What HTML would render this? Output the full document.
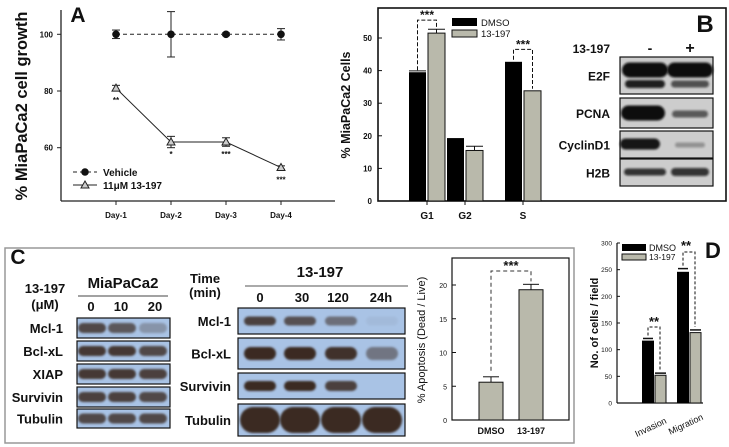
<!DOCTYPE html>
<html><head><meta charset="utf-8"><style>
html,body{margin:0;padding:0;background:#fff}
svg{display:block;font-family:"Liberation Sans",Arial,sans-serif}
</style></head><body>
<svg id="fig" width="729" height="447" viewBox="0 0 729 447" xmlns="http://www.w3.org/2000/svg">
<defs>
<filter id="blur1" x="-20%" y="-50%" width="140%" height="200%"><feGaussianBlur stdDeviation="1.0"/></filter>
</defs>
<g id="panelA"></g>
<g id="panelB"></g>
<g id="blotB"></g>
<g id="panelC"></g>
<g id="panelD"></g>
</svg>
<script>
// ---- Panel A data ----
const daysA = ["Day-1","Day-2","Day-3","Day-4"];
const vehicleA = [100,100,100,100];
const vehicleErrA = [1.5,8,0.5,2];
const drugA = [81,62,62,53];
const drugErrA = [1,2,1.5,0.6];
const drugStarsA = ["**","*","***","***"];
const ticksA = [60,80,100];
// ---- Panel B data ----
const phasesB = ["G1","G2","S"];
const dmsoB = [39.5,19.3,42.7];
const dmsoErrB = [0.4,0,0];
const drugB = [51.5,15.5,33.8];
const drugErrB = [1.2,1.3,0];
const ticksB = [0,10,20,30,40,50];
// ---- Panel C apoptosis data ----
const groupsC = ["DMSO","13-197"];
const apopC = [5.6,19.3];
const apopErrC = [0.8,0.8];
const ticksC = [0,5,10,15,20];
// ---- Panel D data ----
const assaysD = ["Invasion","Migration"];
const dmsoD = [117,246];
const dmsoErrD = [4,6];
const drugD = [52,132];
const drugErrD = [4,5];
const ticksD = [0,50,100,150,200,250,300];

const NS="http://www.w3.org/2000/svg";
function mk(parent,tag,attrs,text){const e=document.createElementNS(NS,tag);for(const k in attrs)e.setAttribute(k,attrs[k]);if(text!==undefined)e.textContent=text;parent.appendChild(e);return e;}
function txt(p,x,y,s,size,opt){opt=opt||{};const t=mk(p,'text',{x:x,y:y,'font-size':size,'text-anchor':opt.anchor||'middle','font-weight':opt.bold===false?'normal':'bold',fill:opt.fill||'#111'},s);if(opt.rot)t.setAttribute('transform','rotate('+opt.rot+' '+x+' '+y+')');return t;}

// ================= Panel A =================
(function(){
const g=document.getElementById('panelA');
const yA=v=>147.7-(v-60)*2.835;
const xA=i=>116+i*55;
mk(g,'line',{x1:61,y1:10,x2:61,y2:201,stroke:'#222','stroke-width':1.3});
mk(g,'line',{x1:61,y1:201,x2:335,y2:201,stroke:'#222','stroke-width':1.3});
ticksA.forEach(t=>{mk(g,'line',{x1:57,y1:yA(t),x2:61,y2:yA(t),stroke:'#222'});const e=txt(g,53,yA(t)+3,String(t),8,{anchor:'end'});});
daysA.forEach((d,i)=>{mk(g,'line',{x1:xA(i),y1:201,x2:xA(i),y2:205,stroke:'#222'});const e=txt(g,xA(i),218,d,8);});
const yt=txt(g,27,106,'% MiaPaCa2 cell growth',16.5,{rot:-90});
txt(g,78,22,'A',21);
let pts=vehicleA.map((v,i)=>xA(i)+','+yA(v)).join(' ');
const vl=mk(g,'polyline',{points:pts,fill:'none',stroke:'#222','stroke-width':1,'stroke-dasharray':'4,3'});

pts=drugA.map((v,i)=>xA(i)+','+yA(v)).join(' ');
const dl=mk(g,'polyline',{points:pts,fill:'none',stroke:'#222','stroke-width':1});

function eb(x,v,e){mk(g,'line',{x1:x,y1:yA(v+e),x2:x,y2:yA(v-e),stroke:'#222'});mk(g,'line',{x1:x-4,y1:yA(v+e),x2:x+4,y2:yA(v+e),stroke:'#222'});mk(g,'line',{x1:x-4,y1:yA(v-e),x2:x+4,y2:yA(v-e),stroke:'#222'});}
vehicleA.forEach((v,i)=>{eb(xA(i),v,vehicleErrA[i]);const c=mk(g,'circle',{cx:xA(i),cy:yA(v),r:3.8,fill:'#111'});});
drugA.forEach((v,i)=>{eb(xA(i),v,drugErrA[i]);const x=xA(i),y=yA(v);const p=mk(g,'polygon',{points:(x-4)+','+(y+3)+' '+(x+4)+','+(y+3)+' '+x+','+(y-4),fill:'#ccc',stroke:'#222'});txt(g,x,y+15,drugStarsA[i],8);});
mk(g,'line',{x1:73,y1:172,x2:97,y2:172,stroke:'#222','stroke-dasharray':'4,3'});mk(g,'circle',{cx:85,cy:172,r:3.8,fill:'#111'});
txt(g,103,176,'Vehicle',10,{anchor:'start'});
mk(g,'line',{x1:73,y1:185,x2:97,y2:185,stroke:'#222'});mk(g,'polygon',{points:'81,188 89,188 85,181',fill:'#ccc',stroke:'#222'});
txt(g,103,189,'11\u03bcM 13-197',10,{anchor:'start'});
})();

// ================= Panel B chart =================
(function(){
const g=document.getElementById('panelB');
const yB=v=>201-v*3.26;
const xC={G1:427,G2:465,S:523};
mk(g,'rect',{x:378,y:8,width:348,height:193,fill:'none',stroke:'#111','stroke-width':1.6});
ticksB.forEach(t=>{mk(g,'line',{x1:378,y1:yB(t),x2:382,y2:yB(t),stroke:'#111'});txt(g,372,yB(t)+3,String(t),8,{anchor:'end'});});
const yt=txt(g,350,105,'% MiaPaCa2 Cells',12.5,{rot:-90});
phasesB.forEach((p,i)=>{
 const c=xC[p];
 mk(g,'line',{x1:c,y1:201,x2:c,y2:205,stroke:'#111'});
 txt(g,c,219,p,10);
 const b1=mk(g,'rect',{x:c-18,y:yB(dmsoB[i]),width:17,height:yB(0)-yB(dmsoB[i]),fill:'#000'});
 
 const b2=mk(g,'rect',{x:c+1,y:yB(drugB[i]),width:17,height:yB(0)-yB(drugB[i]),fill:'#b9b9ab',stroke:'#111'});
 
 if(dmsoErrB[i]>0){mk(g,'line',{x1:c-18,y1:yB(dmsoB[i]+dmsoErrB[i]),x2:c-1,y2:yB(dmsoB[i]+dmsoErrB[i]),stroke:'#111'});}
 if(drugErrB[i]>0){const ye=yB(drugB[i]+drugErrB[i]);mk(g,'line',{x1:c+1,y1:ye,x2:c+18,y2:ye,stroke:'#111'});mk(g,'line',{x1:c+9.5,y1:ye,x2:c+9.5,y2:yB(drugB[i]),stroke:'#111'});}
});
function br(x1,v1,x2,v2,top){const yt=yB(top);mk(g,'polyline',{points:x1+','+(yB(v1)-2)+' '+x1+','+yt+' '+x2+','+yt+' '+x2+','+(yB(v2)-2),fill:'none',stroke:'#111','stroke-dasharray':'4,2'});txt(g,(x1+x2)/2,yt-1,'***',12);}
br(xC.G1-9.5,dmsoB[0],xC.G1+9.5,drugB[0]+drugErrB[0],55.5);
br(xC.S-9.5,dmsoB[2],xC.S+9.5,drugB[2],46.5);
mk(g,'rect',{x:452,y:18,width:25,height:8,fill:'#000'});txt(g,481,26,'DMSO',9.5,{anchor:'start',bold:false});
mk(g,'rect',{x:452,y:30,width:25,height:7,fill:'#b9b9ab',stroke:'#111'});txt(g,481,37,'13-197',9.5,{anchor:'start',bold:false});
txt(g,705,32,'B',24);
})();

function blot(g,x,y,w,h,bg,name){const r=mk(g,'rect',{x:x,y:y,width:w,height:h,fill:bg,stroke:'#111','stroke-width':1.2});}
function band(g,cx,cy,w,h,op,col){mk(g,'rect',{x:cx-w/2,y:cy-h/2,width:w,height:h,rx:h/2,fill:col,opacity:op,filter:'url(#blur1)'});}

// ================= Panel B blot =================
(function(){
const g=document.getElementById('blotB');
const col='#111';
txt(g,610,53,'13-197',12,{anchor:'end'});
txt(g,650,53,'-',14);txt(g,690,53,'+',16);
const rows=[['E2F',57,37],['PCNA',98,30],['CyclinD1',131,27],['H2B',159,27]];
rows.forEach(r=>{blot(g,620,r[1],93,r[2],'#cdcdcd','blot-b-'+r[0].toLowerCase());txt(g,610,r[1]+r[2]/2+5,r[0],12,{anchor:'end'});});
band(g,645,70,46,15,1,col);band(g,690,70,46,15,1,col);
band(g,645,84,40,8,0.9,col);band(g,690,84,38,7,0.65,col);
band(g,643,113,44,15,1,col);band(g,690,114,36,7,0.6,col);
band(g,640,144,40,11,0.95,col);band(g,690,145,30,5,0.3,col);
band(g,645,172,42,7,0.8,col);band(g,690,172,38,8,0.8,col);
})();

// ================= Panel C =================
(function(){
const g=document.getElementById('panelC');
mk(g,'rect',{x:5,y:248,width:569,height:195,fill:'none',stroke:'#999','stroke-width':1.5});
txt(g,18,264,'C',21);
const bg='#a9c3e5',col='#3a2a22';
txt(g,123,288,'MiaPaCa2',15);
mk(g,'line',{x1:78,y1:296,x2:168,y2:296,stroke:'#444','stroke-width':1});
txt(g,45,293,'13-197',13);txt(g,45,309,'(\u03bcM)',13);
[['0',91],['10',121],['20',155]].forEach(l=>txt(g,l[1],311,l[0],13));
const L=[['Mcl-1',318,20],['Bcl-xL',341,20],['XIAP',364,20],['Survivin',387,20],['Tubulin',409,19]];
const lanesL=[92,122,153];
const opL=[[0.8,0.7,0.3],[0.9,0.9,0.8],[0.9,0.9,0.85],[0.85,0.85,0.8],[0.8,0.8,0.8]];
L.forEach((r,i)=>{blot(g,77,r[1],93,r[2],bg,'blot-c-left-'+r[0].toLowerCase());txt(g,63,r[1]+r[2]/2+5,r[0],13,{anchor:'end'});lanesL.forEach((x,j)=>band(g,x,r[1]+r[2]/2,28,10,opL[i][j],col));});
txt(g,205,283,'Time',13);txt(g,205,297,'(min)',13);
txt(g,320,277,'13-197',15);
mk(g,'line',{x1:245,y1:286,x2:408,y2:286,stroke:'#555','stroke-width':1});
[['0',260],['30',302],['120',338],['24h',381]].forEach(l=>txt(g,l[1],302,l[0],13));
const M=[['Mcl-1',308,26],['Bcl-xL',338,31],['Survivin',373,26],['Tubulin',404,32]];
const lanesM=[260,300,341,382];
const opM=[[0.85,0.75,0.55,0.05],[1,1,0.95,0.5],[1,1,0.85,0],[1,1,1,1]];
const hM=[9,13,10,26];
M.forEach((r,i)=>{blot(g,238,r[1],167,r[2],bg,'blot-c-mid-'+r[0].toLowerCase());txt(g,231,r[1]+r[2]/2+5,r[0],13,{anchor:'end'});lanesM.forEach((x,j)=>band(g,x,r[1]+r[2]/2,i==3?40:32,hM[i],opM[i][j],col));});
const yC=v=>420-v*6.75;
const xCc=i=>491+i*40;
mk(g,'rect',{x:452,y:258,width:117,height:162,fill:'none',stroke:'#111','stroke-width':1.2});
ticksC.forEach(t=>{mk(g,'line',{x1:452,y1:yC(t),x2:456,y2:yC(t),stroke:'#111'});txt(g,447,yC(t)+3,String(t),7,{anchor:'end',bold:false});});
const yt=txt(g,425,340,'% Apoptosis (Dead / Live)',11,{rot:-90,bold:false});
groupsC.forEach((gname,i)=>{
 const x=xCc(i);
 const b=mk(g,'rect',{x:x-12,y:yC(apopC[i]),width:24,height:yC(0)-yC(apopC[i]),fill:'#b9b9ab',stroke:'#111'});
 
 const ye=yC(apopC[i]+apopErrC[i]);
 mk(g,'line',{x1:x-8,y1:ye,x2:x+8,y2:ye,stroke:'#111'});mk(g,'line',{x1:x,y1:ye,x2:x,y2:yC(apopC[i]),stroke:'#111'});
 txt(g,x,434,gname,9);
});
const yb=271;
mk(g,'polyline',{points:xCc(0)+','+(yC(apopC[0]+apopErrC[0])-6)+' '+xCc(0)+','+yb+' '+xCc(1)+','+yb+' '+xCc(1)+','+(yC(apopC[1]+apopErrC[1])-3),fill:'none',stroke:'#333','stroke-dasharray':'4,3'});
txt(g,(xCc(0)+xCc(1))/2,270,'***',13);
})();

// ================= Panel D =================
(function(){
const g=document.getElementById('panelD');
const yD=v=>403-v*0.5333;
const xD=i=>654+i*35;
mk(g,'line',{x1:617,y1:243,x2:617,y2:403,stroke:'#111','stroke-width':1.2});
mk(g,'line',{x1:617,y1:403,x2:703,y2:403,stroke:'#111','stroke-width':1.2});
ticksD.forEach(t=>{mk(g,'line',{x1:617,y1:yD(t),x2:620,y2:yD(t),stroke:'#111'});txt(g,612,yD(t)+2.5,String(t),6.5,{anchor:'end',bold:false});});
const yt=txt(g,598,323,'No. of cells / field',11,{rot:-90});
assaysD.forEach((a,i)=>{
 const c=xD(i);
 const b1=mk(g,'rect',{x:c-12,y:yD(dmsoD[i]),width:12,height:yD(0)-yD(dmsoD[i]),fill:'#000'});
 
 const b2=mk(g,'rect',{x:c+1,y:yD(drugD[i]),width:11,height:yD(0)-yD(drugD[i]),fill:'#b9b9ab',stroke:'#111'});
 
 mk(g,'line',{x1:c-11,y1:yD(dmsoD[i]+dmsoErrD[i]),x2:c-1,y2:yD(dmsoD[i]+dmsoErrD[i]),stroke:'#111','stroke-width':1.5});
 mk(g,'line',{x1:c+1,y1:yD(drugD[i]+drugErrD[i]),x2:c+12,y2:yD(drugD[i]+drugErrD[i]),stroke:'#111','stroke-width':1.5});
 txt(g,c-2,430-i*3,a,9,{bold:false,rot:-25});
});
const yb1=327, yb2=252;
mk(g,'polyline',{points:(xD(0)-6)+','+(yD(dmsoD[0]+dmsoErrD[0])-3)+' '+(xD(0)-6)+','+yb1+' '+(xD(0)+6)+','+yb1+' '+(xD(0)+6)+','+(yD(drugD[0]+drugErrD[0])-3),fill:'none',stroke:'#111','stroke-dasharray':'3,2'});
txt(g,xD(0),326,'**',13);
mk(g,'polyline',{points:(xD(1)-6)+','+(yD(dmsoD[1]+dmsoErrD[1])-3)+' '+(xD(1)-6)+','+yb2+' '+(xD(1)+6)+','+yb2+' '+(xD(1)+6)+','+(yD(drugD[1]+drugErrD[1])-3),fill:'none',stroke:'#111','stroke-dasharray':'3,2'});
txt(g,xD(1)-3,250,'**',13);
mk(g,'rect',{x:622,y:244,width:24,height:7,fill:'#000'});txt(g,649,251,'DMSO',9,{anchor:'start',bold:false});
mk(g,'rect',{x:622,y:254,width:24,height:6,fill:'#b9b9ab',stroke:'#111'});txt(g,649,260,'13-197',8.5,{anchor:'start',bold:false});
txt(g,713,258,'D',22);
})();
</script>
</body></html>
